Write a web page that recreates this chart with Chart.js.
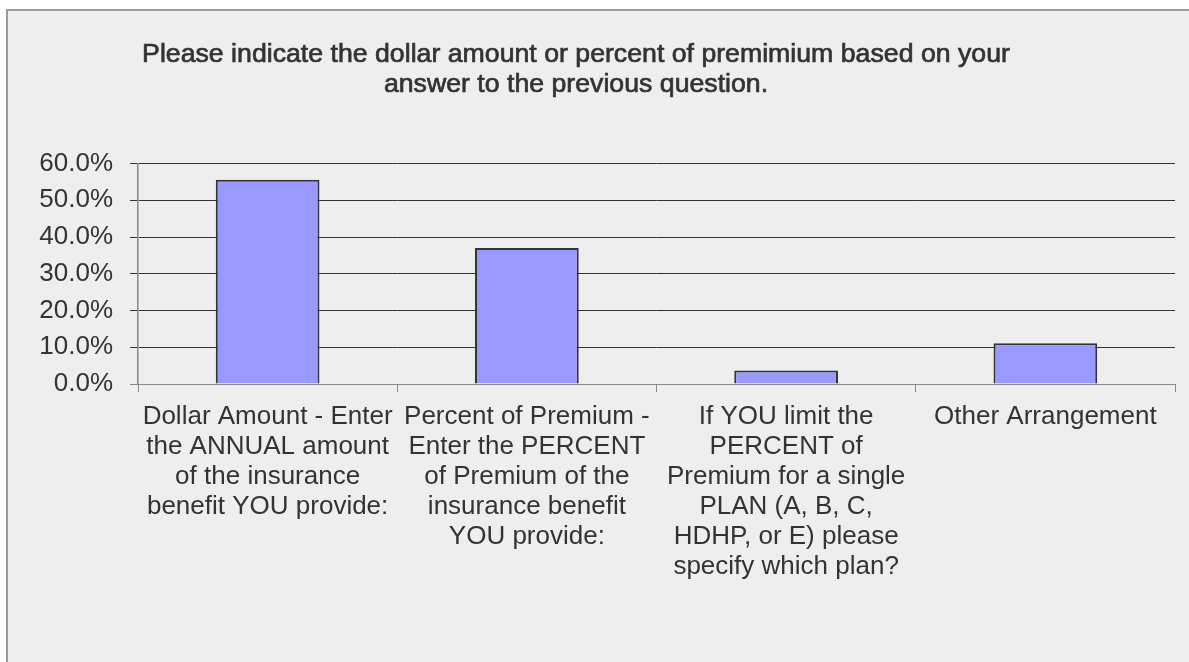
<!DOCTYPE html>
<html>
<head>
<meta charset="utf-8">
<script src="https://cdn.jsdelivr.net/npm/chart.js@4.4.1/dist/chart.umd.min.js"></script>
<style>
  body { margin: 0; background: #ffffff; }
  #marco {
    position: absolute; left: 6px; top: 9px; width: 1200px; height: 670px;
    background: #eeeeee; border-left: 2px solid #9a9a9a; border-top: 2px solid #9a9a9a;
  }
  #grafico { display: block; }
</style>
</head>
<body>
<div id="marco"><canvas id="grafico" width="1181" height="651"></canvas></div>
<script>
// Title, split the same way it wraps on the chart
const tituloLineas = [
  'Please indicate the dollar amount or percent of premimium based on your',
  'answer to the previous question.'
];

// Answer options (one array per wrapped label)
const categorias = [
  ['Dollar Amount - Enter', 'the ANNUAL amount', 'of the insurance', 'benefit YOU provide:'],
  ['Percent of Premium -', 'Enter the PERCENT', 'of Premium of the', 'insurance benefit', 'YOU provide:'],
  ['If YOU limit the', 'PERCENT of', 'Premium for a single', 'PLAN (A, B, C,', 'HDHP, or E) please', 'specify which plan?'],
  ['Other Arrangement']
];

// Share of responses, in percent
const porcentajes = [55.6, 37.0, 3.7, 11.1];

// Y axis range
const yMin = 0;
const yMax = 60;
const yPaso = 10;

const fuente = "'Liberation Sans', Arial, sans-serif";
const colorTexto = '#333333';
const canvasGrafico = document.querySelector('#grafico');

// Draws the centered two-line title above the plot (slightly heavier than the axis text)
const tituloPlugin = {
  id: 'tituloPlugin',
  afterDraw: (chart) => {
    const ctx = chart.ctx;
    ctx.save();
    ctx.font = `26.7px ${fuente}`;
    ctx.fillStyle = colorTexto;
    ctx.strokeStyle = colorTexto;
    ctx.lineWidth = 0.7;
    ctx.textAlign = 'center';
    ctx.textBaseline = 'alphabetic';
    tituloLineas.forEach((linea, i) => {
      ctx.fillText(linea, 568, 51 + i * 30);
      ctx.strokeText(linea, 568, 51 + i * 30);
    });
    ctx.restore();
  }
};

new Chart(canvasGrafico, {
  type: 'bar',
  data: {
    labels: categorias,
    datasets: [{
      data: porcentajes,
      backgroundColor: '#9999ff',
      borderColor: '#333333',
      borderWidth: 2,
      barPercentage: 0.4,
      categoryPercentage: 1
    }]
  },
  options: {
    responsive: false,
    animation: false,
    layout: { padding: { top: 152.5, right: 14, bottom: 78, left: 0 } },
    plugins: {
      legend: { display: false },
      tooltip: { enabled: false },
      title: { display: false }
    },
    scales: {
      x: {
        offset: true,
        grid: { offset: true, drawOnChartArea: false, tickLength: 8, color: '#888888' },
        border: { color: '#888888', width: 1 },
        ticks: {
          color: colorTexto,
          font: { family: fuente, size: 26, lineHeight: 30 / 26 },
          maxRotation: 0,
          minRotation: 0,
          autoSkip: false,
          padding: 10
        },
        afterFit: (scale) => { scale.height = 200; }
      },
      y: {
        min: yMin,
        max: yMax,
        ticks: {
          stepSize: yPaso,
          callback: (v) => v.toFixed(1) + '%',
          color: colorTexto,
          font: { family: fuente, size: 26 },
          padding: 17
        },
        grid: {
          color: (ctx) => (ctx.tick && ctx.tick.value === 0 ? '#888888' : '#333333'),
          tickLength: 8,
          lineWidth: 1
        },
        border: { color: '#888888', width: 1.5 },
        afterFit: (scale) => { scale.width = 130; }
      }
    }
  },
  plugins: [tituloPlugin]
});
</script>
</body>
</html>
